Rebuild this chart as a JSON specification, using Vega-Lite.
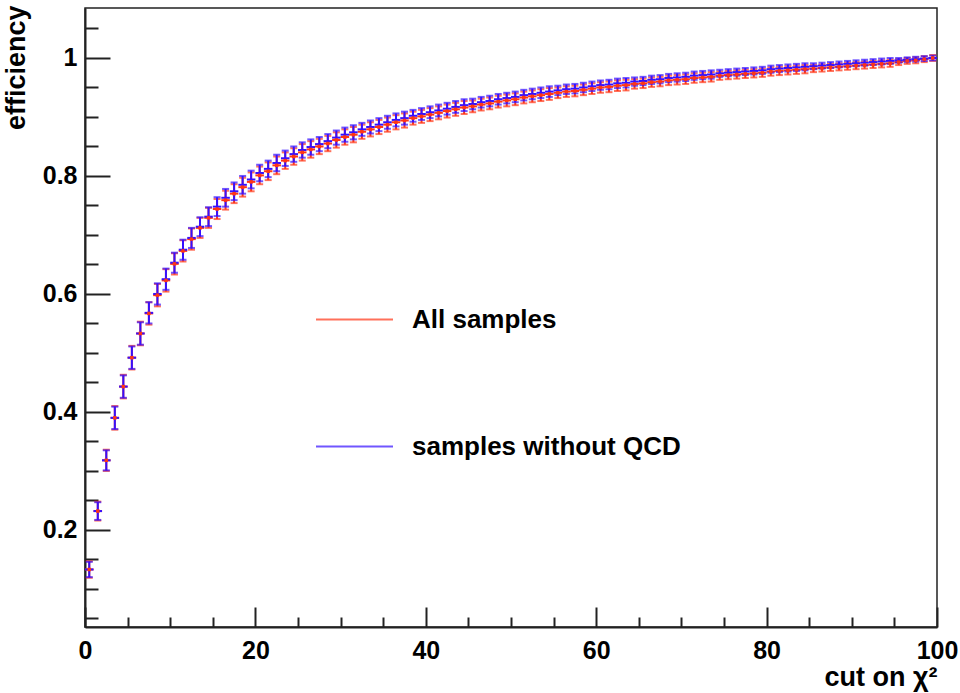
{
  "$schema": "https://vega.github.io/schema/vega-lite/v6.json",
  "width": 852,
  "height": 619,
  "autosize": {"type": "none"},
  "padding": {"left": 85, "top": 8, "right": 23, "bottom": 66},
  "background": "white",
  "datasets": {
    "all": [
      {"x":0.5,"x0":0,"x1":1,"y":0.133,"e":0.014},{"x":1.5,"x0":1,"x1":2,"y":0.232,"e":0.016},{"x":2.5,"x0":2,"x1":3,"y":0.318,"e":0.018},{"x":3.5,"x0":3,"x1":4,"y":0.390,"e":0.020},{"x":4.5,"x0":4,"x1":5,"y":0.443,"e":0.020},
      {"x":5.5,"x0":5,"x1":6,"y":0.492,"e":0.020},{"x":6.5,"x0":6,"x1":7,"y":0.533,"e":0.020},{"x":7.5,"x0":7,"x1":8,"y":0.567,"e":0.019},{"x":8.5,"x0":8,"x1":9,"y":0.598,"e":0.019},{"x":9.5,"x0":9,"x1":10,"y":0.623,"e":0.019},
      {"x":10.5,"x0":10,"x1":11,"y":0.651,"e":0.018},{"x":11.5,"x0":11,"x1":12,"y":0.673,"e":0.018},{"x":12.5,"x0":12,"x1":13,"y":0.693,"e":0.018},{"x":13.5,"x0":13,"x1":14,"y":0.712,"e":0.017},{"x":14.5,"x0":14,"x1":15,"y":0.729,"e":0.017},
      {"x":15.5,"x0":15,"x1":16,"y":0.744,"e":0.017},{"x":16.5,"x0":16,"x1":17,"y":0.759,"e":0.016},{"x":17.5,"x0":17,"x1":18,"y":0.770,"e":0.016},{"x":18.5,"x0":18,"x1":19,"y":0.781,"e":0.016},{"x":19.5,"x0":19,"x1":20,"y":0.790,"e":0.016},
      {"x":20.5,"x0":20,"x1":21,"y":0.801,"e":0.015},{"x":21.5,"x0":21,"x1":22,"y":0.808,"e":0.015},{"x":22.5,"x0":22,"x1":23,"y":0.818,"e":0.015},{"x":23.5,"x0":23,"x1":24,"y":0.826,"e":0.014},{"x":24.5,"x0":24,"x1":25,"y":0.833,"e":0.014},
      {"x":25.5,"x0":25,"x1":26,"y":0.840,"e":0.014},{"x":26.5,"x0":26,"x1":27,"y":0.845,"e":0.014},{"x":27.5,"x0":27,"x1":28,"y":0.850,"e":0.013},{"x":28.5,"x0":28,"x1":29,"y":0.855,"e":0.013},{"x":29.5,"x0":29,"x1":30,"y":0.861,"e":0.013},
      {"x":30.5,"x0":30,"x1":31,"y":0.866,"e":0.013},{"x":31.5,"x0":31,"x1":32,"y":0.870,"e":0.013},{"x":32.5,"x0":32,"x1":33,"y":0.875,"e":0.012},{"x":33.5,"x0":33,"x1":34,"y":0.879,"e":0.012},{"x":34.5,"x0":34,"x1":35,"y":0.883,"e":0.012},
      {"x":35.5,"x0":35,"x1":36,"y":0.887,"e":0.012},{"x":36.5,"x0":36,"x1":37,"y":0.891,"e":0.012},{"x":37.5,"x0":37,"x1":38,"y":0.894,"e":0.012},{"x":38.5,"x0":38,"x1":39,"y":0.898,"e":0.011},{"x":39.5,"x0":39,"x1":40,"y":0.901,"e":0.011},
      {"x":40.5,"x0":40,"x1":41,"y":0.904,"e":0.011},{"x":41.5,"x0":41,"x1":42,"y":0.907,"e":0.011},{"x":42.5,"x0":42,"x1":43,"y":0.910,"e":0.011},{"x":43.5,"x0":43,"x1":44,"y":0.913,"e":0.011},{"x":44.5,"x0":44,"x1":45,"y":0.916,"e":0.011},
      {"x":45.5,"x0":45,"x1":46,"y":0.918,"e":0.010},{"x":46.5,"x0":46,"x1":47,"y":0.921,"e":0.010},{"x":47.5,"x0":47,"x1":48,"y":0.923,"e":0.010},{"x":48.5,"x0":48,"x1":49,"y":0.926,"e":0.010},{"x":49.5,"x0":49,"x1":50,"y":0.928,"e":0.010},
      {"x":50.5,"x0":50,"x1":51,"y":0.930,"e":0.010},{"x":51.5,"x0":51,"x1":52,"y":0.933,"e":0.010},{"x":52.5,"x0":52,"x1":53,"y":0.935,"e":0.010},{"x":53.5,"x0":53,"x1":54,"y":0.937,"e":0.010},{"x":54.5,"x0":54,"x1":55,"y":0.939,"e":0.010},
      {"x":55.5,"x0":55,"x1":56,"y":0.941,"e":0.009},{"x":56.5,"x0":56,"x1":57,"y":0.943,"e":0.009},{"x":57.5,"x0":57,"x1":58,"y":0.944,"e":0.009},{"x":58.5,"x0":58,"x1":59,"y":0.946,"e":0.009},{"x":59.5,"x0":59,"x1":60,"y":0.948,"e":0.009},
      {"x":60.5,"x0":60,"x1":61,"y":0.950,"e":0.009},{"x":61.5,"x0":61,"x1":62,"y":0.951,"e":0.009},{"x":62.5,"x0":62,"x1":63,"y":0.953,"e":0.009},{"x":63.5,"x0":63,"x1":64,"y":0.954,"e":0.009},{"x":64.5,"x0":64,"x1":65,"y":0.956,"e":0.008},
      {"x":65.5,"x0":65,"x1":66,"y":0.957,"e":0.008},{"x":66.5,"x0":66,"x1":67,"y":0.959,"e":0.008},{"x":67.5,"x0":67,"x1":68,"y":0.960,"e":0.008},{"x":68.5,"x0":68,"x1":69,"y":0.962,"e":0.008},{"x":69.5,"x0":69,"x1":70,"y":0.963,"e":0.008},
      {"x":70.5,"x0":70,"x1":71,"y":0.964,"e":0.008},{"x":71.5,"x0":71,"x1":72,"y":0.966,"e":0.008},{"x":72.5,"x0":72,"x1":73,"y":0.967,"e":0.008},{"x":73.5,"x0":73,"x1":74,"y":0.968,"e":0.008},{"x":74.5,"x0":74,"x1":75,"y":0.970,"e":0.007},
      {"x":75.5,"x0":75,"x1":76,"y":0.971,"e":0.007},{"x":76.5,"x0":76,"x1":77,"y":0.972,"e":0.007},{"x":77.5,"x0":77,"x1":78,"y":0.973,"e":0.007},{"x":78.5,"x0":78,"x1":79,"y":0.974,"e":0.007},{"x":79.5,"x0":79,"x1":80,"y":0.975,"e":0.007},
      {"x":80.5,"x0":80,"x1":81,"y":0.977,"e":0.007},{"x":81.5,"x0":81,"x1":82,"y":0.978,"e":0.007},{"x":82.5,"x0":82,"x1":83,"y":0.979,"e":0.007},{"x":83.5,"x0":83,"x1":84,"y":0.980,"e":0.007},{"x":84.5,"x0":84,"x1":85,"y":0.981,"e":0.007},
      {"x":85.5,"x0":85,"x1":86,"y":0.982,"e":0.006},{"x":86.5,"x0":86,"x1":87,"y":0.983,"e":0.006},{"x":87.5,"x0":87,"x1":88,"y":0.984,"e":0.006},{"x":88.5,"x0":88,"x1":89,"y":0.985,"e":0.006},{"x":89.5,"x0":89,"x1":90,"y":0.986,"e":0.006},
      {"x":90.5,"x0":90,"x1":91,"y":0.987,"e":0.006},{"x":91.5,"x0":91,"x1":92,"y":0.988,"e":0.006},{"x":92.5,"x0":92,"x1":93,"y":0.989,"e":0.006},{"x":93.5,"x0":93,"x1":94,"y":0.990,"e":0.006},{"x":94.5,"x0":94,"x1":95,"y":0.991,"e":0.006},
      {"x":95.5,"x0":95,"x1":96,"y":0.993,"e":0.005},{"x":96.5,"x0":96,"x1":97,"y":0.995,"e":0.005},{"x":97.5,"x0":97,"x1":98,"y":0.996,"e":0.005},{"x":98.5,"x0":98,"x1":99,"y":0.998,"e":0.005},{"x":99.5,"x0":99,"x1":100,"y":1.000,"e":0.005}
    ],
    "noqcd": [
      {"x":0.5,"x0":0,"x1":1,"y":0.133,"e":0.013},{"x":1.5,"x0":1,"x1":2,"y":0.232,"e":0.015},{"x":2.5,"x0":2,"x1":3,"y":0.318,"e":0.017},{"x":3.5,"x0":3,"x1":4,"y":0.390,"e":0.019},{"x":4.5,"x0":4,"x1":5,"y":0.443,"e":0.019},
      {"x":5.5,"x0":5,"x1":6,"y":0.492,"e":0.019},{"x":6.5,"x0":6,"x1":7,"y":0.533,"e":0.019},{"x":7.5,"x0":7,"x1":8,"y":0.568,"e":0.018},{"x":8.5,"x0":8,"x1":9,"y":0.600,"e":0.018},{"x":9.5,"x0":9,"x1":10,"y":0.625,"e":0.018},
      {"x":10.5,"x0":10,"x1":11,"y":0.653,"e":0.017},{"x":11.5,"x0":11,"x1":12,"y":0.675,"e":0.017},{"x":12.5,"x0":12,"x1":13,"y":0.695,"e":0.017},{"x":13.5,"x0":13,"x1":14,"y":0.714,"e":0.016},{"x":14.5,"x0":14,"x1":15,"y":0.731,"e":0.016},
      {"x":15.5,"x0":15,"x1":16,"y":0.748,"e":0.016},{"x":16.5,"x0":16,"x1":17,"y":0.763,"e":0.015},{"x":17.5,"x0":17,"x1":18,"y":0.774,"e":0.015},{"x":18.5,"x0":18,"x1":19,"y":0.785,"e":0.015},{"x":19.5,"x0":19,"x1":20,"y":0.794,"e":0.015},
      {"x":20.5,"x0":20,"x1":21,"y":0.805,"e":0.014},{"x":21.5,"x0":21,"x1":22,"y":0.812,"e":0.014},{"x":22.5,"x0":22,"x1":23,"y":0.822,"e":0.014},{"x":23.5,"x0":23,"x1":24,"y":0.830,"e":0.013},{"x":24.5,"x0":24,"x1":25,"y":0.837,"e":0.013},
      {"x":25.5,"x0":25,"x1":26,"y":0.844,"e":0.013},{"x":26.5,"x0":26,"x1":27,"y":0.849,"e":0.013},{"x":27.5,"x0":27,"x1":28,"y":0.854,"e":0.012},{"x":28.5,"x0":28,"x1":29,"y":0.859,"e":0.012},{"x":29.5,"x0":29,"x1":30,"y":0.865,"e":0.012},
      {"x":30.5,"x0":30,"x1":31,"y":0.870,"e":0.012},{"x":31.5,"x0":31,"x1":32,"y":0.874,"e":0.012},{"x":32.5,"x0":32,"x1":33,"y":0.879,"e":0.011},{"x":33.5,"x0":33,"x1":34,"y":0.883,"e":0.011},{"x":34.5,"x0":34,"x1":35,"y":0.887,"e":0.011},
      {"x":35.5,"x0":35,"x1":36,"y":0.891,"e":0.011},{"x":36.5,"x0":36,"x1":37,"y":0.895,"e":0.011},{"x":37.5,"x0":37,"x1":38,"y":0.898,"e":0.011},{"x":38.5,"x0":38,"x1":39,"y":0.902,"e":0.010},{"x":39.5,"x0":39,"x1":40,"y":0.905,"e":0.010},
      {"x":40.5,"x0":40,"x1":41,"y":0.908,"e":0.010},{"x":41.5,"x0":41,"x1":42,"y":0.911,"e":0.010},{"x":42.5,"x0":42,"x1":43,"y":0.914,"e":0.010},{"x":43.5,"x0":43,"x1":44,"y":0.917,"e":0.010},{"x":44.5,"x0":44,"x1":45,"y":0.920,"e":0.010},
      {"x":45.5,"x0":45,"x1":46,"y":0.922,"e":0.009},{"x":46.5,"x0":46,"x1":47,"y":0.925,"e":0.009},{"x":47.5,"x0":47,"x1":48,"y":0.927,"e":0.009},{"x":48.5,"x0":48,"x1":49,"y":0.930,"e":0.009},{"x":49.5,"x0":49,"x1":50,"y":0.932,"e":0.009},
      {"x":50.5,"x0":50,"x1":51,"y":0.934,"e":0.009},{"x":51.5,"x0":51,"x1":52,"y":0.937,"e":0.009},{"x":52.5,"x0":52,"x1":53,"y":0.939,"e":0.009},{"x":53.5,"x0":53,"x1":54,"y":0.941,"e":0.009},{"x":54.5,"x0":54,"x1":55,"y":0.943,"e":0.009},
      {"x":55.5,"x0":55,"x1":56,"y":0.945,"e":0.008},{"x":56.5,"x0":56,"x1":57,"y":0.947,"e":0.008},{"x":57.5,"x0":57,"x1":58,"y":0.948,"e":0.008},{"x":58.5,"x0":58,"x1":59,"y":0.950,"e":0.008},{"x":59.5,"x0":59,"x1":60,"y":0.952,"e":0.008},
      {"x":60.5,"x0":60,"x1":61,"y":0.954,"e":0.008},{"x":61.5,"x0":61,"x1":62,"y":0.955,"e":0.008},{"x":62.5,"x0":62,"x1":63,"y":0.957,"e":0.008},{"x":63.5,"x0":63,"x1":64,"y":0.958,"e":0.008},{"x":64.5,"x0":64,"x1":65,"y":0.960,"e":0.007},
      {"x":65.5,"x0":65,"x1":66,"y":0.961,"e":0.007},{"x":66.5,"x0":66,"x1":67,"y":0.963,"e":0.007},{"x":67.5,"x0":67,"x1":68,"y":0.964,"e":0.007},{"x":68.5,"x0":68,"x1":69,"y":0.966,"e":0.007},{"x":69.5,"x0":69,"x1":70,"y":0.967,"e":0.007},
      {"x":70.5,"x0":70,"x1":71,"y":0.968,"e":0.007},{"x":71.5,"x0":71,"x1":72,"y":0.970,"e":0.007},{"x":72.5,"x0":72,"x1":73,"y":0.971,"e":0.007},{"x":73.5,"x0":73,"x1":74,"y":0.972,"e":0.007},{"x":74.5,"x0":74,"x1":75,"y":0.974,"e":0.006},
      {"x":75.5,"x0":75,"x1":76,"y":0.975,"e":0.006},{"x":76.5,"x0":76,"x1":77,"y":0.976,"e":0.006},{"x":77.5,"x0":77,"x1":78,"y":0.977,"e":0.006},{"x":78.5,"x0":78,"x1":79,"y":0.978,"e":0.006},{"x":79.5,"x0":79,"x1":80,"y":0.979,"e":0.006},
      {"x":80.5,"x0":80,"x1":81,"y":0.981,"e":0.006},{"x":81.5,"x0":81,"x1":82,"y":0.982,"e":0.006},{"x":82.5,"x0":82,"x1":83,"y":0.983,"e":0.006},{"x":83.5,"x0":83,"x1":84,"y":0.984,"e":0.006},{"x":84.5,"x0":84,"x1":85,"y":0.985,"e":0.006},
      {"x":85.5,"x0":85,"x1":86,"y":0.986,"e":0.005},{"x":86.5,"x0":86,"x1":87,"y":0.987,"e":0.005},{"x":87.5,"x0":87,"x1":88,"y":0.988,"e":0.005},{"x":88.5,"x0":88,"x1":89,"y":0.989,"e":0.005},{"x":89.5,"x0":89,"x1":90,"y":0.990,"e":0.005},
      {"x":90.5,"x0":90,"x1":91,"y":0.991,"e":0.005},{"x":91.5,"x0":91,"x1":92,"y":0.992,"e":0.005},{"x":92.5,"x0":92,"x1":93,"y":0.993,"e":0.005},{"x":93.5,"x0":93,"x1":94,"y":0.994,"e":0.005},{"x":94.5,"x0":94,"x1":95,"y":0.995,"e":0.005},
      {"x":95.5,"x0":95,"x1":96,"y":0.996,"e":0.004},{"x":96.5,"x0":96,"x1":97,"y":0.997,"e":0.004},{"x":97.5,"x0":97,"x1":98,"y":0.998,"e":0.004},{"x":98.5,"x0":98,"x1":99,"y":0.999,"e":0.004},{"x":99.5,"x0":99,"x1":100,"y":1.000,"e":0.004}
    ]
  },
  "encoding": {
    "y": {"type": "quantitative", "title": "efficiency",
      "scale": {"domain": [0.0355, 1.0847], "nice": false, "zero": false},
      "axis": {
        "title": "efficiency",
        "values": [0.05,0.1,0.15,0.2,0.25,0.3,0.35,0.4,0.45,0.5,0.55,0.6,0.65,0.7,0.75,0.8,0.85,0.9,0.95,1,1.05],
        "labelExpr": "(datum.value === 0.2 || datum.value === 0.4 || datum.value === 0.6 || datum.value === 0.8 || datum.value === 1) ? format(datum.value, '~g') : ''",
        "tickSize": -25,
        "tickDash": {"condition": {"test": "datum.value === 0.2 || datum.value === 0.4 || datum.value === 0.6 || datum.value === 0.8 || datum.value === 1", "value": [30, 1]}, "value": [13, 60]},
        "labelPadding": 33,
        "labelFlush": false,
        "labelOverlap": false,
        "titleAngle": 270,
        "titleAlign": "right",
        "titleX": -61,
        "titleY": -3,
        "titleBaseline": "alphabetic"
      }
    }
  },
  "layer": [
    {
      "data": {"name": "all"},
      "mark": {"type": "rule", "strokeWidth": 2},
      "encoding": {
        "x": {"field": "x0", "type": "quantitative", "title": "cut on χ²",
          "scale": {"domain": [0, 100], "nice": false, "zero": false},
          "axis": {
            "title": "cut on χ²",
            "values": [0,5,10,15,20,25,30,35,40,45,50,55,60,65,70,75,80,85,90,95,100],
            "labelExpr": "datum.value % 20 === 0 ? datum.label : ''",
            "tickSize": {"condition": {"test": "datum.value % 20 === 0", "value": -20}, "value": -10},
            "labelPadding": 31,
            "labelFlush": false,
            "labelOverlap": false,
            "titleAnchor": "end",
            "titleAlign": "right",
            "titleX": 852,
            "titleY": 58,
            "titleBaseline": "alphabetic"
          }
        },
        "x2": {"field": "x1"},
        "y": {"field": "y"},
        "color": {"datum": "All samples", "type": "nominal",
          "scale": {"domain": ["All samples", "samples without QCD"], "range": ["#ff3515", "#3510ff"]},
          "legend": {
            "title": null,
            "orient": "none",
            "legendX": 230,
            "legendY": 272,
            "symbolType": "stroke",
            "symbolSize": 5929,
            "symbolStrokeWidth": 2,
            "labelFont": "Liberation Sans",
            "labelFontWeight": "bold",
            "labelFontSize": 26,
            "labelColor": "#000",
            "labelOffset": 18,
            "labelLimit": 500,
            "rowPadding": 74,
            "padding": 0
          }
        }
      }
    },
    {
      "data": {"name": "all"},
      "mark": {"type": "errorbar", "thickness": 2, "ticks": {"size": 7, "thickness": 2}},
      "encoding": {
        "x": {"field": "x", "type": "quantitative", "title": "cut on χ²"},
        "y": {"field": "y"},
        "yError": {"field": "e"},
        "color": {"datum": "All samples", "type": "nominal"}
      }
    },
    {
      "data": {"name": "noqcd"},
      "mark": {"type": "rule", "strokeWidth": 2},
      "encoding": {
        "x": {"field": "x0", "type": "quantitative", "title": "cut on χ²"},
        "x2": {"field": "x1"},
        "y": {"field": "y"},
        "color": {"datum": "samples without QCD", "type": "nominal"}
      }
    },
    {
      "data": {"name": "noqcd"},
      "mark": {"type": "errorbar", "thickness": 2, "ticks": {"size": 7, "thickness": 2}},
      "encoding": {
        "x": {"field": "x", "type": "quantitative", "title": "cut on χ²"},
        "y": {"field": "y"},
        "yError": {"field": "e"},
        "color": {"datum": "samples without QCD", "type": "nominal"}
      }
    },
    {
      "data": {"name": "all"},
      "mark": {"type": "point", "shape": "square", "filled": true, "size": 12, "opacity": 1, "strokeWidth": 0},
      "encoding": {
        "x": {"field": "x", "type": "quantitative", "title": "cut on χ²"},
        "y": {"field": "y"},
        "color": {"datum": "All samples", "type": "nominal"}
      }
    }
  ],
  "config": {
    "view": {"stroke": "#222", "strokeWidth": 1.5},
    "axis": {
      "grid": false,
      "domainColor": "#222",
      "domainWidth": 2,
      "tickColor": "#222",
      "tickWidth": 2,
      "labelFont": "Liberation Sans",
      "labelFontWeight": "bold",
      "labelFontSize": 25,
      "labelColor": "#000",
      "titleFont": "Liberation Sans",
      "titleFontWeight": "bold",
      "titleFontSize": 27,
      "titleColor": "#000"
    }
  }
}
